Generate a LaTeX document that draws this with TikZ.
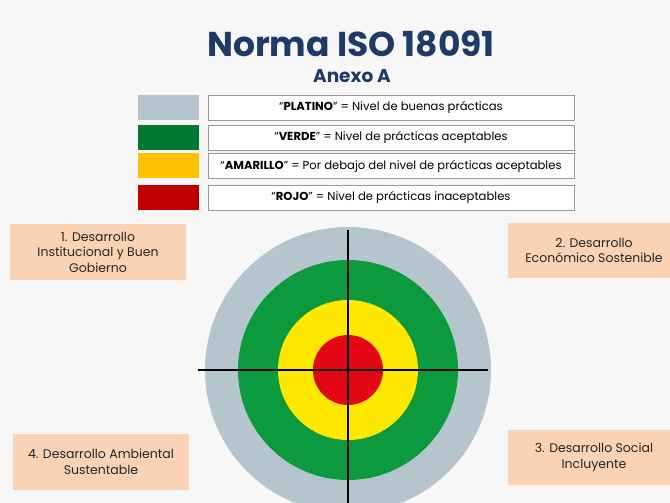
\documentclass[tikz,border=0pt]{standalone}
\usepackage{fontspec}
\setmainfont{Poppins}
\definecolor{bg}{HTML}{F7F7F7}
\definecolor{titleblue}{HTML}{1F3A68}
\definecolor{platino}{HTML}{B5C5CD}
\definecolor{verdesw}{HTML}{007A33}
\definecolor{amarsw}{HTML}{FFC000}
\definecolor{rojosw}{HTML}{C00000}
\definecolor{ringgray}{HTML}{B4C5CE}
\definecolor{ringgreen}{HTML}{0B9A3E}
\definecolor{ringyellow}{HTML}{FFE800}
\definecolor{ringred}{HTML}{E30613}
\definecolor{peach}{HTML}{FAD3B4}
\definecolor{boxline}{HTML}{9A9A9A}
\tikzset{
  swatch/.style={minimum width=61pt, minimum height=25pt, inner sep=0pt},
  legbox/.style={draw=boxline, line width=0.8pt, fill=white, minimum width=366pt, minimum height=25pt, inner sep=0pt, font=\fontsize{11.6}{14}\selectfont},
  areabox/.style={fill=peach, inner sep=0pt, align=center, font=\fontsize{12.5}{15.5}\selectfont, text=black!85},
  cross/.style={draw=black, line width=1.2pt}
}
\begin{document}
\begin{tikzpicture}[x=1pt,y=-1pt]
\fill[bg] (0,0) rectangle (670,503);
\useasboundingbox (0,0) rectangle (670,503);
% title
\node[text=titleblue, font=\fontsize{34.5}{40}\selectfont\bfseries] (title) at (351,44) {Norma ISO 18091};
\node[text=titleblue, font=\fontsize{18.5}{22}\selectfont\bfseries] (anexo) at (352,76) {Anexo A};
% legend
\node[swatch, fill=platino] (s1) at (168,107.5) {};
\node[swatch, fill=verdesw] (s2) at (168,137.5) {};
\node[swatch, fill=amarsw] (s3) at (168,165.5) {};
\node[swatch, fill=rojosw] (s4) at (168,197.5) {};
\node[legbox] (l1) at (391,107.5) {``\textbf{PLATINO}'' = Nivel de buenas prácticas};
\node[legbox] (l2) at (391,137.5) {``\textbf{VERDE}'' = Nivel de prácticas aceptables};
\node[legbox] (l3) at (391,166) {``\textbf{AMARILLO}'' = Por debajo del nivel de prácticas aceptables};
\node[legbox] (l4) at (391,197.5) {``\textbf{ROJO}'' = Nivel de prácticas inaceptables};
% target
\coordinate (c) at (348,370);
\fill[ringgray] (c) circle (143);
\fill[ringgreen] (c) circle (110);
\fill[ringyellow] (c) circle (70);
\fill[ringred] (c) circle (35);
\coordinate (vtop) at (348,230);
\coordinate (vbot) at (348,503);
\coordinate (hleft) at (198,370);
\coordinate (hright) at (488,370);
\draw[cross] (vtop) -- (vbot);
\draw[cross] (hleft) -- (hright);
% area boxes
\node[areabox, minimum width=176pt, minimum height=56pt] (a1) at (98,252) {1. Desarrollo\\Institucional y Buen\\Gobierno};
\node[areabox, minimum width=162pt, minimum height=55pt] (a2) at (589,250.5) {\hspace*{10pt}2. Desarrollo\\\hspace*{10pt}Económico Sostenible};
\node[areabox, minimum width=162pt, minimum height=55pt] (a3) at (589,457.5) {\hspace*{10pt}3. Desarrollo Social\\\hspace*{10pt}Incluyente};
\node[areabox, minimum width=176pt, minimum height=56pt] (a4) at (101,462) {4. Desarrollo Ambiental\\Sustentable};
\end{tikzpicture}
\end{document}
